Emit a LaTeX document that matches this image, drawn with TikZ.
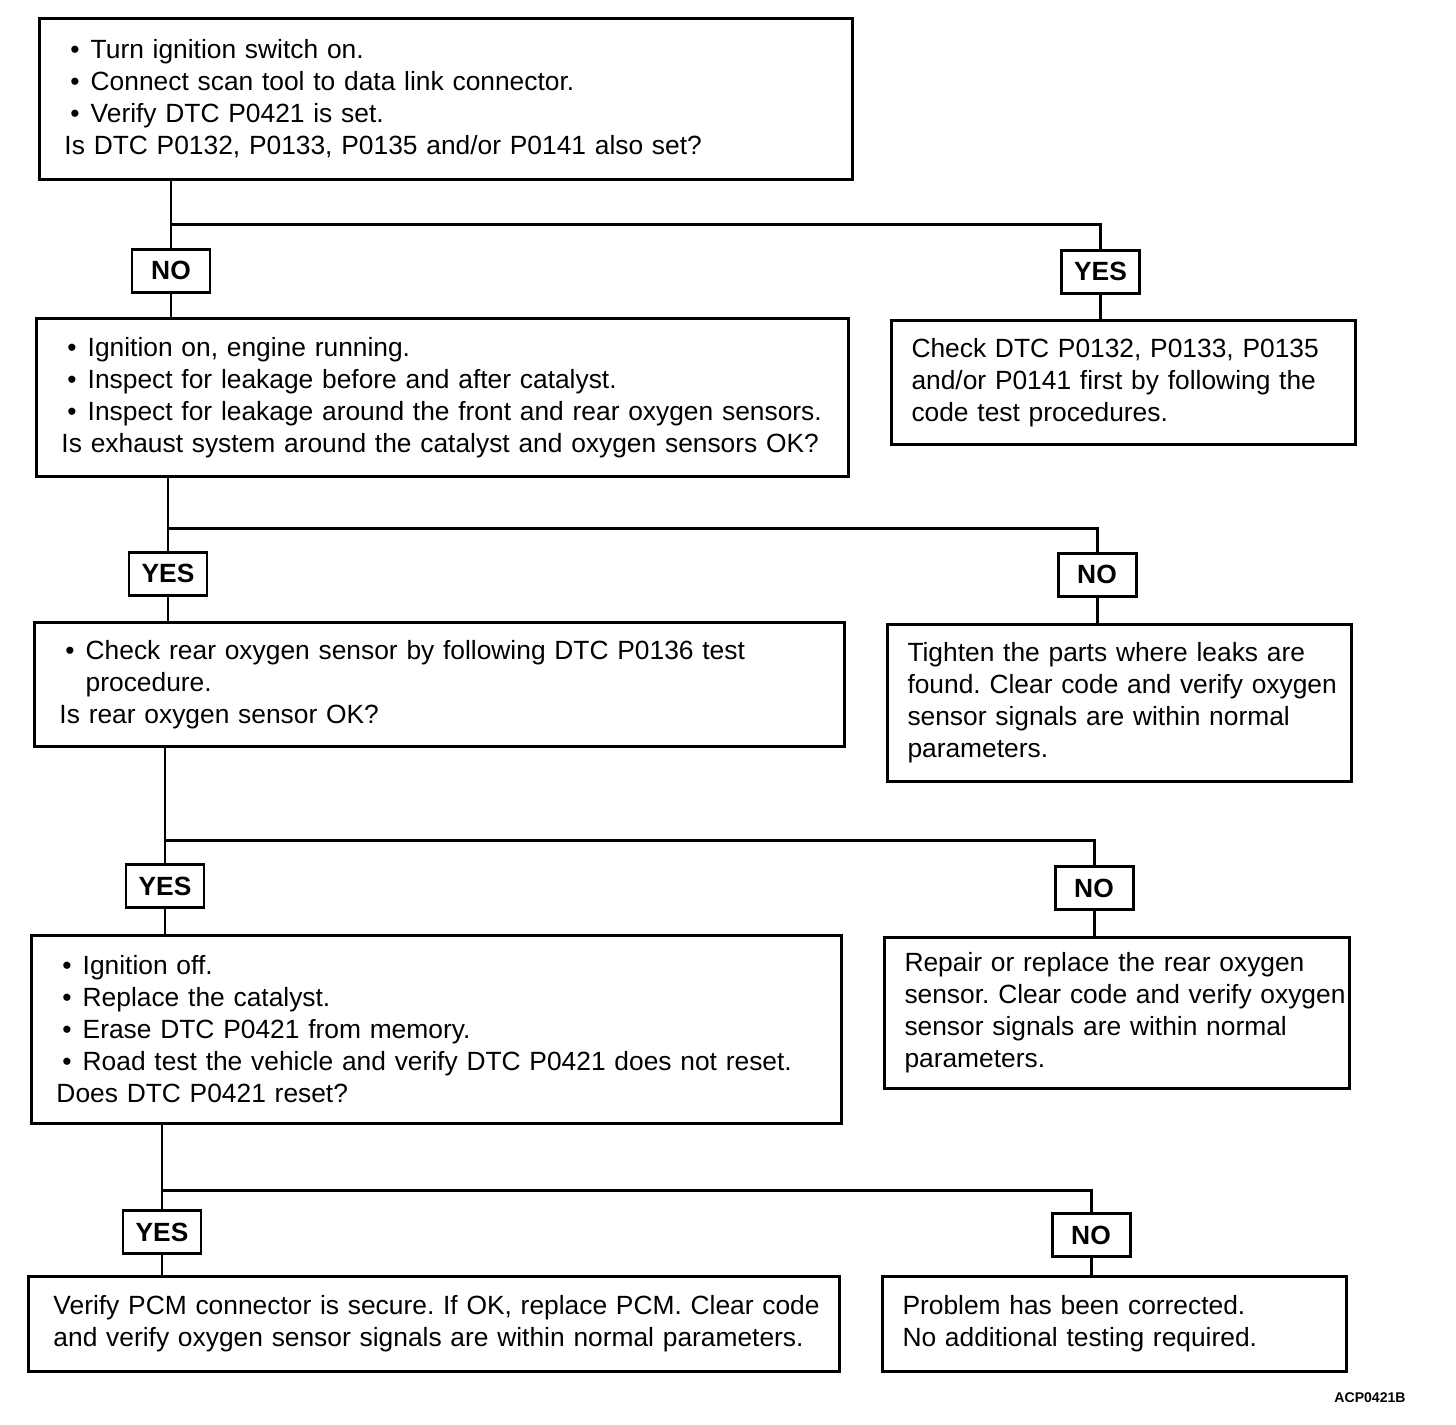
\documentclass[tikz,border=0pt]{standalone}
\usepackage{fontspec}
\setmainfont{Liberation Sans}
\usepackage{tikz}
\usetikzlibrary{calc}
\frenchspacing
\newcommand{\itm}{\hspace*{0.12cm}\textbullet\hspace{0.22cm}}
\tikzset{wire/.style={line width=1.7pt},
  qbox/.style 2 args={draw,line width=1.7pt,anchor=north west,align=left,inner xsep=0.5cm,inner ysep=0pt,
    text width=#1,minimum height=#2,font=\fontsize{15}{18.2}\selectfont},
  rbox/.style 2 args={qbox={#1}{#2},inner xsep=0.4cm},
  tag/.style={draw,line width=1.7pt,minimum width=1.56cm,minimum height=0.86cm,inner sep=0pt,font=\fontsize{15}{18}\selectfont\bfseries}}

\begin{document}
\begin{tikzpicture}
\useasboundingbox (0,0) rectangle (29.12,-28.48);
\node[qbox={15.26cm}{3.22cm}] (q1) at (0.76,-0.34) {\itm Turn ignition switch on.\\ \itm Connect scan tool to data link connector.\\ \itm Verify DTC P0421 is set.\\ Is DTC P0132, P0133, P0135 and/or P0141 also set?};
\node[qbox={15.24cm}{3.16cm}] (q2) at (0.70,-6.34) {\itm Ignition on, engine running.\\ \itm Inspect for leakage before and after catalyst.\\ \itm Inspect for leakage around the front and rear oxygen sensors.\\ Is exhaust system around the catalyst and oxygen sensors OK?};
\node[rbox={8.48cm}{2.48cm}] (r1) at (17.80,-6.38) {Check DTC P0132, P0133, P0135\\ and/or P0141 first by following the\\ code test procedures.};
\node[qbox={15.20cm}{2.48cm}] (q3) at (0.66,-12.42) {\itm Check rear oxygen sensor by following DTC P0136 test\\ \phantom{\itm}procedure.\\ Is rear oxygen sensor OK?};
\node[rbox={8.48cm}{3.14cm}] (r2) at (17.72,-12.46) {Tighten the parts where leaks are\\ \mbox{found. Clear code and verify oxygen}\\ sensor signals are within normal\\ parameters.};
\node[qbox={15.20cm}{3.76cm}] (q4) at (0.60,-18.68) {\itm Ignition off.\\ \itm Replace the catalyst.\\ \itm Erase DTC P0421 from memory.\\ \itm Road test the vehicle and verify DTC P0421 does not reset.\\ Does DTC P0421 reset?};
\node[rbox={8.50cm}{3.02cm}] (r3) at (17.66,-18.72) {Repair or replace the rear oxygen\\ \mbox{sensor. Clear code and verify oxygen}\\ sensor signals are within normal\\ parameters.};
\node[qbox={15.22cm}{1.90cm}] (r4) at (0.54,-25.50) {\mbox{Verify PCM connector is secure. If OK, replace PCM. Clear code}\\ and verify oxygen sensor signals are within normal parameters.};
\node[rbox={8.48cm}{1.90cm}] (r5) at (17.62,-25.50) {Problem has been corrected.\\ No additional testing required.};
\node[tag] (no1) at (3.42,-5.41) {NO}; \node[tag] (yes1) at (22.01,-5.43) {YES};
\node[tag] (yes2) at (3.36,-11.47) {YES}; \node[tag] (no2) at (21.94,-11.49) {NO};
\node[tag] (yes3) at (3.30,-17.72) {YES}; \node[tag] (no3) at (21.88,-17.76) {NO};
\node[tag] (yes4) at (3.24,-24.64) {YES}; \node[tag] (no4) at (21.82,-24.70) {NO};
\coordinate (s1) at (3.42,-4.48); \coordinate (s2) at (3.36,-10.56); \coordinate (s3) at (3.30,-16.80); \coordinate (s4) at (3.24,-23.80);
\draw[wire] (q1.south -| s1) -- (no1); \draw[wire] (s1) -| (yes1); \draw[wire] (no1) -- (q2.north -| no1); \draw[wire] (yes1) -- (r1.north -| yes1);
\draw[wire] (q2.south -| s2) -- (yes2); \draw[wire] (s2) -| (no2); \draw[wire] (yes2) -- (q3.north -| yes2); \draw[wire] (no2) -- (r2.north -| no2);
\draw[wire] (q3.south -| s3) -- (yes3); \draw[wire] (s3) -| (no3); \draw[wire] (yes3) -- (q4.north -| yes3); \draw[wire] (no3) -- (r3.north -| no3);
\draw[wire] (q4.south -| s4) -- (yes4); \draw[wire] (s4) -| (no4); \draw[wire] (yes4) -- (r4.north -| yes4); \draw[wire] (no4) -- (r5.north -| no4);
\node[font=\fontsize{8}{9}\selectfont\bfseries] (code) at (27.40,-27.96) {ACP0421B};
\end{tikzpicture}
\end{document}
